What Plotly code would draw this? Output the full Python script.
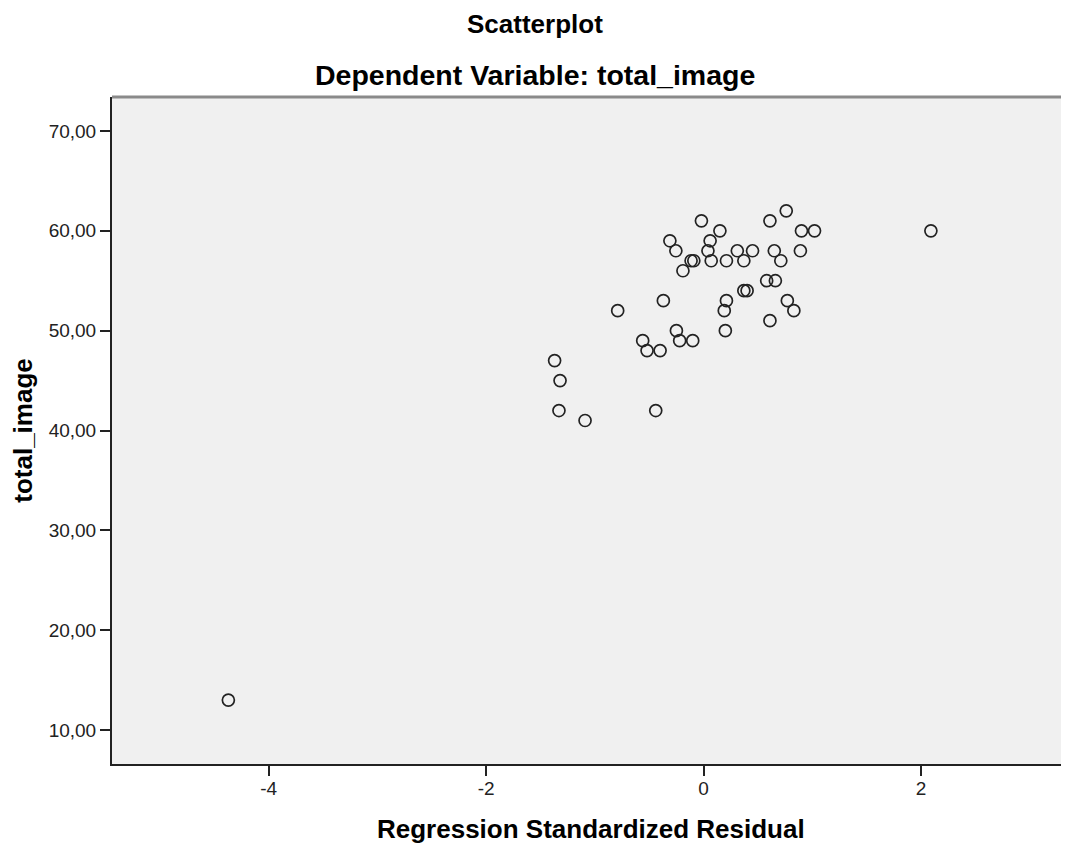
import plotly.graph_objects as go

# Data
residual = [0.76,
            -0.02, 0.61,
            0.15, 0.90, 1.02, 2.09,
            -0.31, 0.06,
            -0.255, 0.04, 0.31, 0.45, 0.65, 0.89,
            -0.115, -0.09, 0.07, 0.21, 0.37, 0.71,
            -0.19,
            0.58, 0.66,
            0.37, 0.40,
            -0.37, 0.21, 0.77,
            -0.79, 0.19, 0.83,
            0.61,
            -0.25, 0.20,
            -0.56, -0.22, -0.10,
            -0.52, -0.40,
            -1.37,
            -1.32,
            -1.33, -0.44,
            -1.09,
            -4.37]
total_image = [62,
               61, 61,
               60, 60, 60, 60,
               59, 59,
               58, 58, 58, 58, 58, 58,
               57, 57, 57, 57, 57, 57,
               56,
               55, 55,
               54, 54,
               53, 53, 53,
               52, 52, 52,
               51,
               50, 50,
               49, 49, 49,
               48, 48,
               47,
               45,
               42, 42,
               41,
               13]

x_tick_vals = [-4, -2, 0, 2]
x_tick_text = ["-4", "-2", "0", "2"]
y_tick_vals = [10, 20, 30, 40, 50, 60, 70]
y_tick_text = ["10,00", "20,00", "30,00", "40,00", "50,00", "60,00", "70,00"]

title_main = "Scatterplot"
title_sub = "Dependent Variable: total_image"
x_title = "Regression Standardized Residual"
y_title = "total_image"

FONT = "Liberation Sans, Arial, sans-serif"

fig = go.Figure(go.Scatter(
    x=residual, y=total_image, mode="markers",
    marker=dict(symbol="circle-open", size=12, color="#222222",
                line=dict(width=1.7, color="#222222")),
    hoverinfo="x+y",
))

fig.update_layout(
    width=1061, height=838,
    margin=dict(l=104, r=0, t=89, b=82),
    paper_bgcolor="white",
    plot_bgcolor="#f0f0f0",
    showlegend=False,
    font=dict(family=FONT, color="#222222"),
    xaxis=dict(
        range=[-5.44, 3.36], tickvals=x_tick_vals, ticktext=x_tick_text,
        showgrid=False, zeroline=False,
        showline=True, linecolor="#222222", linewidth=2,
        ticks="outside", ticklen=10, tickwidth=2, tickcolor="#222222",
        tickfont=dict(size=19, color="#222222"), ticklabelstandoff=-4,
    ),
    yaxis=dict(
        range=[6.6, 73.4], tickvals=y_tick_vals, ticktext=y_tick_text,
        showgrid=False, zeroline=False,
        showline=True, linecolor="#222222", linewidth=2,
        ticks="outside", ticklen=10, tickwidth=2, tickcolor="#222222",
        tickfont=dict(size=19, color="#222222"),
        title=dict(text="<b>%s</b>" % y_title,
                   font=dict(size=26, color="#000000", family=FONT), standoff=11),
    ),
    shapes=[dict(type="line", xref="paper", yref="paper", x0=0, x1=1, y0=1, y1=1,
                 line=dict(color="#8a8a8a", width=3))],
    annotations=[
        dict(text="<b>%s</b>" % title_main, xref="paper", yref="paper", x=0.442, y=1,
             yanchor="middle", yshift=73, showarrow=False,
             font=dict(size=26, color="#000000", family=FONT)),
        dict(text="<b>%s</b>" % title_sub, xref="paper", yref="paper", x=0.442, y=1,
             yanchor="middle", yshift=22, showarrow=False,
             font=dict(size=28.5, color="#000000", family=FONT)),
        dict(text="<b>%s</b>" % x_title, xref="paper", yref="paper", x=0.5, y=0,
             yanchor="middle", yshift=-65, showarrow=False,
             font=dict(size=26, color="#000000", family=FONT)),
    ],
)

fig.write_html("out.html")
